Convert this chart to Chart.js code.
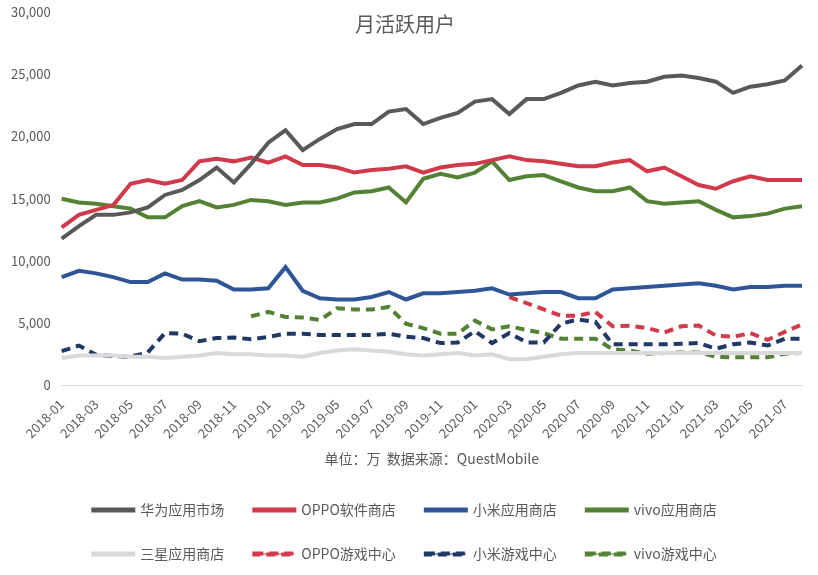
<!DOCTYPE html>
<html>
<head>
<meta charset="utf-8">
<script src="https://cdn.jsdelivr.net/npm/chart.js@4"></script>
<style>
  html, body { margin: 0; padding: 0; background: #fff; }
  #wrap { width: 818px; height: 575px; }
</style>
</head>
<body>
<div id="wrap"><canvas id="myChart" width="818" height="575"></canvas></div>
<script>
// months 2018-01 .. 2021-08
const months = [];
for (let y = 2018; y <= 2021; y++) {
  for (let m = 1; m <= 12; m++) {
    if (y === 2021 && m > 8) break;
    months.push(y + '-' + String(m).padStart(2, '0'));
  }
}

const huawei = [11800,12800,13700,13700,13900,14300,15300,15700,16500,17500,16300,17800,19500,20500,18900,19800,20600,21000,21000,22000,22200,21000,21500,21900,22800,23000,21800,23000,23000,23500,24100,24400,24100,24300,24400,24800,24900,24700,24400,23500,24000,24200,24500,25700];
const oppo = [12700,13700,14100,14500,16200,16500,16200,16500,18000,18200,18000,18300,17900,18400,17700,17700,17500,17100,17300,17400,17600,17100,17500,17700,17800,18100,18400,18100,18000,17800,17600,17600,17900,18100,17200,17500,16800,16100,15800,16400,16800,16500,16500,16500];
const xiaomi = [8700,9200,9000,8700,8300,8300,9000,8500,8500,8400,7700,7700,7800,9500,7600,7000,6900,6900,7100,7500,6900,7400,7400,7500,7600,7800,7300,7400,7500,7500,7000,7000,7700,7800,7900,8000,8100,8200,8000,7700,7900,7900,8000,8000];
const vivo = [15000,14700,14600,14400,14200,13500,13500,14400,14800,14300,14500,14900,14800,14500,14700,14700,15000,15500,15600,15900,14700,16600,17000,16700,17100,18000,16500,16800,16900,16400,15900,15600,15600,15900,14800,14600,14700,14800,14100,13500,13600,13800,14200,14400];
const samsung = [2200,2400,2400,2400,2300,2300,2200,2300,2400,2600,2500,2500,2400,2400,2300,2600,2800,2900,2800,2700,2500,2400,2500,2600,2400,2500,2100,2100,2300,2500,2600,2600,2600,2600,2600,2600,2600,2600,2600,2600,2600,2600,2600,2600];
const oppoGame = [null,null,null,null,null,null,null,null,null,null,null,null,null,null,null,null,null,null,null,null,null,null,null,null,null,null,7100,6600,6100,5600,5600,5900,4750,4800,4600,4250,4750,4800,4000,3900,4200,3650,4300,4900];
const xiaomiGame = [2750,3200,2450,2350,2300,2650,4200,4150,3550,3800,3850,3700,3900,4150,4150,4050,4050,4050,4050,4150,3900,3800,3400,3450,4350,3400,4200,3450,3450,4950,5300,5100,3300,3300,3300,3300,3350,3400,2950,3300,3450,3200,3750,3750];
const vivoGame = [null,null,null,null,null,null,null,null,null,null,null,5550,5900,5500,5450,5250,6200,6100,6100,6300,4950,4600,4150,4150,5200,4500,4750,4450,4200,3750,3750,3750,2900,2800,2550,2600,2650,2650,2300,2250,2250,2250,2550,2600];

function line(label, data, color, dash) {
  return {
    label: label, data: data, borderColor: color, backgroundColor: color,
    borderWidth: 4, borderDash: dash ? [9, 6] : [], pointRadius: 0,
    tension: 0, spanGaps: false
  };
}

const table = {
  labels: months,
  datasets: [
    line('华为应用市场', huawei, '#595959'),
    line('OPPO软件商店', oppo, '#d13a4a'),
    line('小米应用商店', xiaomi, '#2f5597'),
    line('vivo应用商店', vivo, '#548235'),
    line('三星应用商店', samsung, '#d9d9d9'),
    line('OPPO游戏中心', oppoGame, '#d13a4a', true),
    line('小米游戏中心', xiaomiGame, '#203864', true),
    line('vivo游戏中心', vivoGame, '#548235', true)
  ]
};

const font = "'Noto Sans CJK SC', 'Noto Sans', sans-serif";

new Chart(document.getElementById('myChart'), {
  type: 'line',
  data: table,
  options: {
    responsive: false,
    animation: false,
    layout: { padding: { left: 8, right: 16, top: 8, bottom: 4 } },
    plugins: {
      title: {
        display: true, text: '月活跃用户', color: '#595959',
        font: { family: font, size: 20, weight: 'normal' }, padding: { top: 4, bottom: -24 }
      },
      legend: {
        position: 'bottom',
        labels: {
          color: '#595959', font: { family: font, size: 14 },
          boxWidth: 40, boxHeight: 1, padding: 30
        }
      },
      tooltip: { enabled: false }
    },
    scales: {
      x: {
        grid: { display: false },
        border: { color: '#d9d9d9' },
        ticks: {
          color: '#595959', font: { family: font, size: 13 },
          maxRotation: 45, minRotation: 45, autoSkip: false,
          callback: function (v, i) { return i % 2 === 0 ? months[i] : ''; }
        },
        title: {
          display: true, text: '单位：万  数据来源：QuestMobile', color: '#595959',
          font: { family: font, size: 14 }, padding: { top: 6, bottom: 6 }
        }
      },
      y: {
        min: 0, max: 30000,
        grid: { display: false },
        border: { display: false },
        ticks: {
          stepSize: 5000, color: '#595959', font: { family: font, size: 13 },
          callback: v => v.toLocaleString('en-US')
        }
      }
    }
  }
});
</script>
</body>
</html>
